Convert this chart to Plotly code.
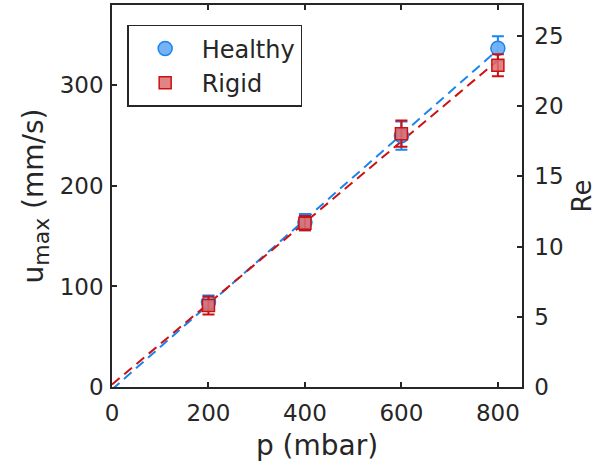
import numpy as np
import plotly.graph_objects as go

# Data
pressure = [200, 400, 600, 800]          # p (mbar)
healthy_u = [84, 164, 250, 337]           # u_max (mm/s)
healthy_err = [7, 8, 14, 12]
rigid_u = [81, 163, 252, 320]
rigid_err = [9, 7, 13, 11]
u_to_re = 0.0716                          # Re per mm/s

x_ticks = [0, 200, 400, 600, 800]
u_ticks = [0, 100, 200, 300]
re_ticks = [0, 5, 10, 15, 20, 25]

BLUE = "#1a85f0"
BLUE_FILL = "rgba(110,175,245,0.95)"
RED = "#cc1111"
RED_FILL = "rgba(222,110,110,0.85)"
AX = "#262626"

def fit_line(x, y):
    k, b = np.polyfit(x, y, 1)
    xs = [0, max(x)]
    return xs, [k * v + b for v in xs]

fig = go.Figure()

hx, hy = fit_line(pressure, healthy_u)
rx, ry = fit_line(pressure, rigid_u)

fig.add_trace(go.Scatter(x=hx, y=hy, mode="lines", showlegend=False,
                         line=dict(color=BLUE, width=2, dash="10px,6px")))
fig.add_trace(go.Scatter(x=rx, y=ry, mode="lines", showlegend=False,
                         line=dict(color=RED, width=2, dash="10px,6px")))

fig.add_trace(go.Scatter(
    x=pressure, y=healthy_u, mode="markers", name="Healthy",
    marker=dict(symbol="circle", size=14, color=BLUE_FILL, line=dict(color=BLUE, width=1.5)),
    error_y=dict(type="data", array=healthy_err, color=BLUE, thickness=2, width=6)))
fig.add_trace(go.Scatter(
    x=pressure, y=rigid_u, mode="markers", name="Rigid",
    marker=dict(symbol="square", size=12, color=RED_FILL, line=dict(color=RED, width=1.5)),
    error_y=dict(type="data", array=rigid_err, color=RED, thickness=2, width=6)))

# invisible trace for the right axis
fig.add_trace(go.Scatter(x=[0], y=[0], yaxis="y2", mode="markers",
                         marker=dict(opacity=0), showlegend=False, hoverinfo="skip"))

u_max = 380
tick_font = dict(size=23, color=AX)
title_font = dict(size=28, color=AX)
fig.update_layout(
    width=597, height=473,
    margin=dict(l=112, r=75, t=5, b=86),
    paper_bgcolor="white", plot_bgcolor="white",
    font=dict(family="DejaVu Sans", size=23, color=AX),
    xaxis=dict(range=[0, 850], tickvals=x_ticks, ticks="inside", ticklen=5, tickwidth=1.5,
               tickcolor=AX, showline=True, linecolor=AX, linewidth=1.5, mirror="ticks",
               showgrid=False, zeroline=False, automargin=False, tickfont=tick_font,
               ticklabelstandoff=5,
               title=dict(text="p (mbar)", font=title_font, standoff=10)),
    yaxis=dict(range=[0, u_max], tickvals=u_ticks, ticks="inside", ticklen=5, tickwidth=1.5,
               tickcolor=AX, showline=True, linecolor=AX, linewidth=1.5,
               showgrid=False, zeroline=False, automargin=False, tickfont=tick_font,
               ticklabelstandoff=2,
               title=dict(text="u<sub><span style='font-size:22px'>max</span></sub> (mm/s)",
                          font=title_font, standoff=8)),
    yaxis2=dict(range=[0, u_max * u_to_re], tickvals=re_ticks, overlaying="y", side="right",
                ticks="inside", ticklen=5, tickwidth=1.5, tickcolor=AX, automargin=False,
                showline=True, linecolor=AX, linewidth=1.5, showgrid=False, zeroline=False,
                tickfont=tick_font, ticklabelstandoff=6,
                title=dict(text="Re", font=dict(size=26, color=AX), standoff=15)),
    legend=dict(x=0.037, y=0.948, xanchor="left", yanchor="top",
                bordercolor=AX, borderwidth=1.5, bgcolor="white",
                font=dict(size=24, color=AX), itemwidth=63, tracegroupgap=0),
)

fig.write_html("out.html")
